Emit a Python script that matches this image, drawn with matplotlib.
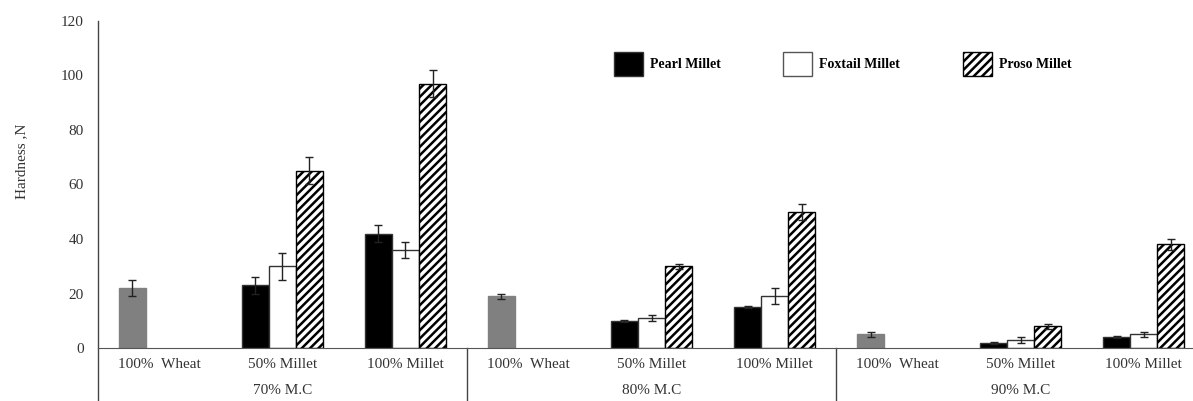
import numpy as np
import matplotlib.pyplot as plt
from matplotlib.patches import Patch
from matplotlib.transforms import blended_transform_factory

plt.rcParams['font.family'] = ['Liberation Serif', 'DejaVu Serif']
plt.rcParams['hatch.linewidth'] = 1.8

groups = ['70% M.C', '80% M.C', '90% M.C']
categories = ['100%  Wheat', '50% Millet', '100% Millet'] * 3

# wheat control, one per moisture level
wheat = [22, 19, 5]
wheat_err = [3, 1, 1]

# millet blends: 50% and 100% for each moisture level
pearl = [23, 42, 10, 15, 2, 4]
pearl_err = [3, 3, 0.4, 0.4, 0.4, 0.3]
foxtail = [30, 36, 11, 19, 3, 5]
foxtail_err = [5, 3, 1, 3, 1, 1]
proso = [65, 97, 30, 50, 8, 38]
proso_err = [5, 5, 1, 3, 1, 2]

w = 0.22
x = np.arange(len(categories))
xw = x[0::3]
xm = np.array([i for i in x if i % 3 != 0])

fig = plt.figure(figsize=(11.93, 4.01), dpi=100)
ax = fig.add_axes([0.082, 0.132, 0.918, 0.816])

ek = dict(ecolor='#222222', elinewidth=1, capsize=3, capthick=1)
ax.bar(xw - w, wheat, w, yerr=wheat_err, color='#808080', edgecolor='#808080', error_kw=ek)
ax.bar(xm - w, pearl, w, yerr=pearl_err, color='black', edgecolor='#333333', error_kw=ek)
ax.bar(xm, foxtail, w, yerr=foxtail_err, color='white', edgecolor='#333333', linewidth=1, error_kw=ek)
ax.bar(xm + w, proso, w, yerr=proso_err, color='white', edgecolor='black', hatch='////', linewidth=1, error_kw=ek)

ax.set_ylim(0, 120)
ax.set_yticks(range(0, 121, 20))
ax.set_xlim(-0.5, 8.4)
ax.set_xticks(x)
ax.set_xticklabels(categories, fontsize=11)
ax.tick_params(axis='both', length=0, labelsize=11, colors='#333333')
ax.tick_params(axis='x', pad=7)
ax.tick_params(axis='y', pad=10)
for s in ['top', 'right', 'left']:
    ax.spines[s].set_visible(False)
ax.spines['bottom'].set_color('#555555')

tr = blended_transform_factory(ax.transData, ax.transAxes)
for xs in [-0.5, 2.5, 5.5]:
    top = 1.0 if xs == -0.5 else 0
    ax.plot([xs, xs], [-0.165, top], transform=tr, color='#444444', lw=1, clip_on=False)
for i, g in enumerate(groups):
    ax.text(3 * i + 1, -0.13, g, transform=tr, ha='center', va='center', fontsize=11, color='#333333')

ax.set_ylabel('Hardness ,N', fontsize=11, color='#333333')
ax.yaxis.set_label_coords(-0.064, 0.57)

handles = [Patch(facecolor='black', edgecolor='#333333', label='Pearl Millet'),
           Patch(facecolor='white', edgecolor='#555555', label='Foxtail Millet'),
           Patch(facecolor='white', edgecolor='black', hatch='////', label='Proso Millet')]
leg = ax.legend(handles=handles, ncol=3, loc='center', bbox_to_anchor=(0.68, 0.868),
                frameon=False, handlelength=2.1, handleheight=2.2, columnspacing=4.5,
                handletextpad=0.5, prop={'weight': 'bold', 'size': 10})

fig.savefig('out.png', dpi=100)
